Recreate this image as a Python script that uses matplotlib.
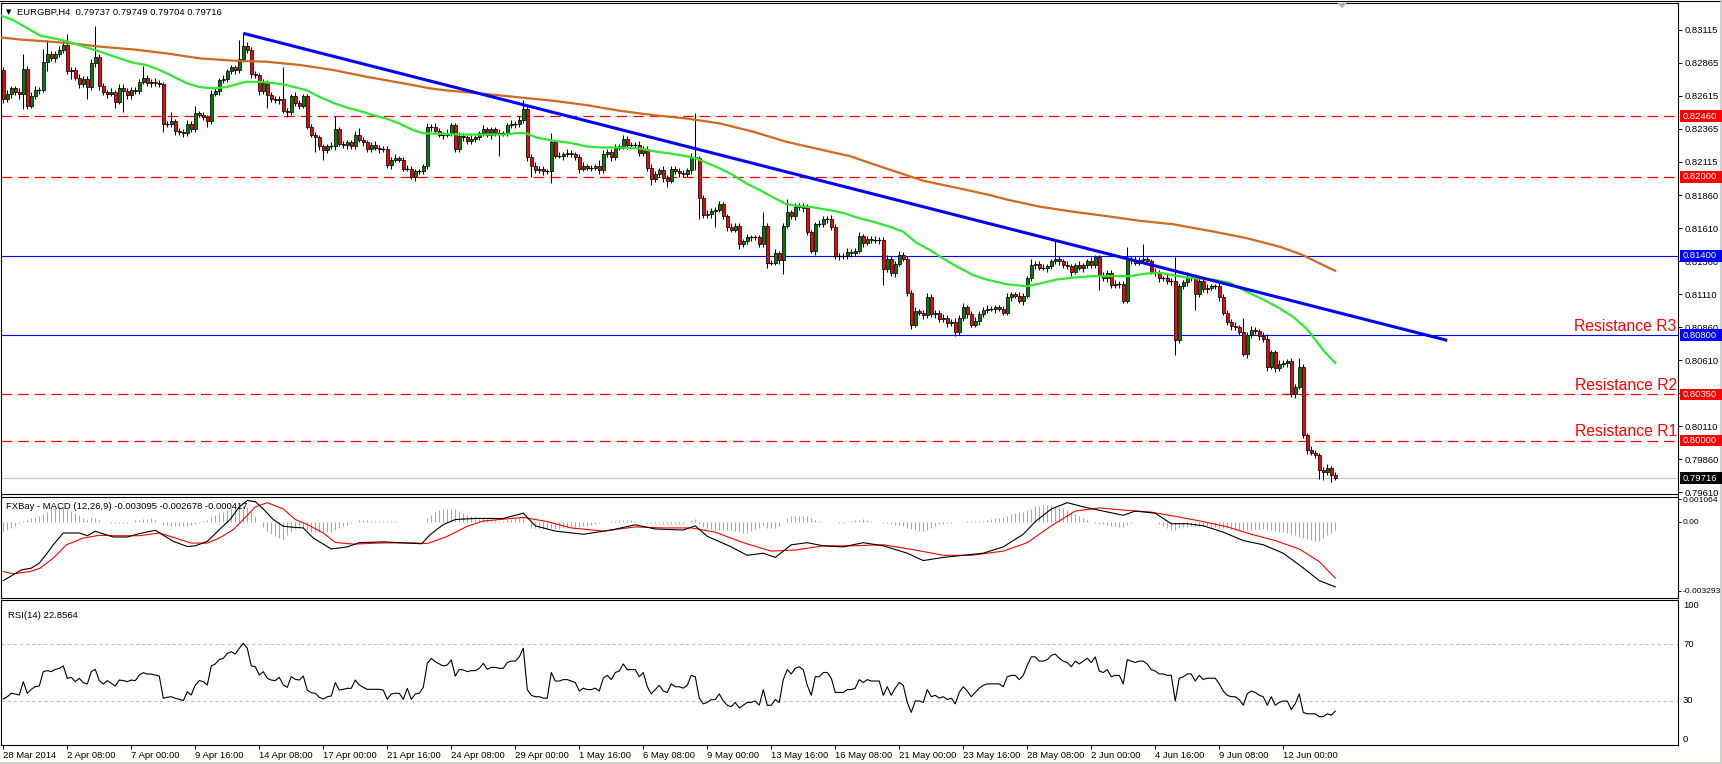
import numpy as np
import matplotlib
matplotlib.use('Agg')
import matplotlib.pyplot as plt
from matplotlib.patches import Rectangle, Polygon
from matplotlib.transforms import blended_transform_factory

plt.rcParams['font.family'] = ['Liberation Sans', 'DejaVu Sans']

# === EURGBP H4 candles (prices in pips, 1 pip = 0.0001) ===
first_open = 8281
closes = [
    8259, 8263, 8267, 8264, 8263, 8282, 8254, 8261, 8266, 8266,
    8287, 8293, 8290, 8293, 8296, 8300, 8280, 8281, 8275, 8270,
    8274, 8268, 8286, 8291, 8269, 8264, 8263, 8264, 8257, 8267,
    8265, 8262, 8266, 8265, 8272, 8275, 8271, 8272, 8271, 8270,
    8240, 8240, 8242, 8235, 8234, 8233, 8240, 8236, 8248, 8247,
    8245, 8242, 8263, 8265, 8273, 8274, 8280, 8283, 8281, 8289,
    8299, 8296, 8278, 8277, 8265, 8271, 8262, 8259, 8258, 8259,
    8250, 8249, 8261, 8256, 8254, 8261, 8238, 8232, 8230, 8223,
    8220, 8223, 8223, 8236, 8225, 8224, 8226, 8223, 8232, 8228,
    8226, 8221, 8224, 8222, 8221, 8221, 8209, 8213, 8214, 8213,
    8206, 8206, 8200, 8204, 8204, 8208, 8238, 8238, 8235, 8232,
    8232, 8233, 8239, 8221, 8231, 8230, 8227, 8229, 8230, 8233,
    8236, 8232, 8236, 8233, 8233, 8233, 8239, 8240, 8240, 8243,
    8251, 8215, 8208, 8205, 8206, 8204, 8204, 8226, 8216, 8216,
    8217, 8218, 8217, 8215, 8206, 8208, 8207, 8207, 8208, 8205,
    8217, 8219, 8215, 8222, 8223, 8229, 8224, 8224, 8224, 8218,
    8221, 8207, 8198, 8202, 8205, 8199, 8197, 8206, 8204, 8203,
    8202, 8205, 8215, 8214, 8184, 8171, 8172, 8174, 8175, 8179,
    8170, 8162, 8160, 8163, 8149, 8151, 8154, 8154, 8154, 8149,
    8163, 8135, 8135, 8142, 8137, 8163, 8173, 8170, 8177, 8178,
    8176, 8158, 8144, 8164, 8164, 8168, 8168, 8162, 8140, 8140,
    8140, 8143, 8142, 8144, 8155, 8150, 8153, 8152, 8152, 8152,
    8130, 8138, 8127, 8134, 8141, 8138, 8112, 8088, 8098, 8097,
    8095, 8109, 8096, 8097, 8092, 8093, 8089, 8090, 8082, 8093,
    8101, 8096, 8088, 8091, 8096, 8099, 8100, 8100, 8101, 8100,
    8097, 8109, 8111, 8110, 8106, 8110, 8123, 8133, 8134, 8131,
    8131, 8132, 8136, 8138, 8136, 8133, 8132, 8128, 8133, 8131,
    8133, 8136, 8133, 8139, 8125, 8123, 8127, 8118, 8119, 8119,
    8106, 8138, 8137, 8135, 8137, 8138, 8136, 8128, 8127, 8123,
    8123, 8121, 8121, 8076, 8117, 8120, 8123, 8123, 8111, 8121,
    8115, 8116, 8117, 8117, 8109, 8097, 8090, 8087, 8086, 8082,
    8066, 8080, 8084, 8083, 8079, 8077, 8056, 8067, 8055, 8058,
    8059, 8060, 8035, 8041, 8056, 8004, 7993, 7991, 7989, 7978,
    7976, 7979, 7974, 7972,
]
# wick length above / below the body, pips
wick_up = [
    2, 3, 2, 2, 3, 11, 2, 3, 3, 2, 10, 11, 2, 2, 3, 4, 8, 2, 2, 3,
    2, 2, 3, 23, 2, 2, 2, 3, 2, 3, 3, 2, 2, 2, 2, 9, 2, 2, 3, 2,
    2, 2, 7, 2, 2, 2, 3, 2, 6, 2, 2, 2, 3, 2, 2, 3, 2, 2, 2, 15,
    10, 3, 2, 2, 2, 3, 2, 2, 2, 2, 24, 2, 2, 3, 2, 2, 2, 2, 2, 2,
    2, 2, 3, 10, 2, 2, 2, 2, 3, 5, 2, 2, 2, 3, 2, 2, 2, 2, 3, 2,
    2, 3, 2, 2, 2, 2, 3, 2, 3, 2, 2, 3, 2, 2, 3, 2, 2, 3, 2, 2,
    3, 2, 2, 2, 3, 2, 2, 3, 2, 3, 7, 2, 2, 3, 2, 2, 2, 7, 2, 3,
    2, 3, 2, 2, 2, 3, 2, 2, 2, 5, 3, 2, 2, 3, 2, 3, 2, 2, 2, 3,
    2, 2, 3, 2, 2, 3, 2, 2, 2, 3, 2, 2, 3, 33, 2, 2, 3, 2, 2, 3,
    2, 2, 3, 2, 2, 2, 3, 2, 2, 2, 10, 2, 2, 3, 2, 2, 10, 2, 3, 2,
    2, 3, 2, 2, 3, 2, 2, 3, 2, 2, 2, 3, 2, 2, 3, 2, 2, 2, 3, 2,
    2, 3, 2, 2, 3, 2, 2, 2, 3, 2, 2, 3, 2, 2, 2, 3, 2, 2, 3, 2,
    3, 2, 2, 3, 2, 2, 3, 2, 2, 2, 2, 3, 2, 2, 3, 2, 2, 5, 2, 2,
    3, 2, 2, 13, 2, 2, 3, 2, 2, 3, 2, 2, 3, 2, 2, 3, 2, 2, 3, 2,
    2, 9, 2, 3, 2, 11, 2, 2, 3, 2, 2, 3, 2, 18, 2, 2, 5, 2, 3, 2,
    2, 3, 2, 2, 3, 2, 2, 2, 3, 2, 11, 2, 3, 2, 2, 3, 4, 2, 2, 3,
    2, 2, 3, 2, 7, 2, 2, 3, 2, 2, 2, 3, 2, 2,
]
wick_dn = [
    3, 2, 3, 2, 4, 12, 3, 2, 2, 3, 2, 7, 2, 3, 2, 2, 2, 6, 2, 3,
    2, 9, 2, 3, 3, 2, 3, 2, 5, 2, 16, 3, 3, 2, 2, 2, 2, 3, 2, 2,
    6, 2, 2, 3, 2, 3, 2, 2, 2, 2, 2, 4, 2, 2, 3, 2, 2, 2, 3, 2,
    2, 2, 3, 2, 3, 2, 10, 2, 2, 3, 2, 4, 2, 2, 3, 2, 2, 2, 11, 3,
    7, 2, 2, 3, 2, 2, 3, 2, 2, 2, 3, 2, 2, 2, 3, 2, 2, 3, 2, 2,
    2, 2, 2, 3, 2, 2, 2, 3, 2, 2, 3, 2, 2, 2, 2, 3, 2, 2, 3, 2,
    2, 2, 3, 2, 17, 2, 2, 2, 3, 2, 2, 3, 8, 2, 2, 3, 2, 9, 2, 2,
    3, 2, 2, 2, 3, 2, 2, 3, 2, 3, 2, 2, 3, 2, 2, 2, 3, 2, 2, 2,
    2, 3, 4, 2, 2, 3, 5, 2, 2, 3, 2, 2, 3, 9, 16, 2, 2, 3, 12, 2,
    2, 3, 2, 2, 4, 2, 2, 3, 2, 2, 2, 4, 2, 2, 3, 11, 2, 2, 3, 2,
    3, 2, 2, 3, 2, 2, 3, 2, 2, 3, 2, 2, 3, 2, 2, 3, 2, 2, 2, 3,
    12, 2, 2, 3, 2, 2, 2, 3, 2, 2, 3, 2, 2, 3, 2, 2, 3, 2, 3, 2,
    2, 3, 2, 2, 3, 2, 2, 2, 3, 2, 2, 2, 3, 2, 2, 3, 2, 2, 3, 2,
    2, 3, 2, 2, 3, 2, 2, 3, 2, 2, 3, 2, 2, 2, 11, 2, 3, 2, 2, 3,
    2, 2, 3, 2, 2, 2, 3, 2, 2, 3, 2, 2, 3, 11, 2, 2, 3, 2, 12, 2,
    2, 3, 2, 2, 3, 2, 2, 3, 2, 2, 2, 3, 2, 2, 3, 2, 3, 2, 3, 2,
    2, 3, 2, 3, 2, 2, 3, 2, 2, 7, 6, 2, 5, 2,
]

# moving averages read as (bar, pips) points
ma_fast_x = [-0.5, 2.3, 7.5, 9.2, 14, 16.7, 20.8, 24, 28.3, 32.5, 35.8, 39, 42.5, 45.8, 49, 52.5,
             55.8, 59, 60.8, 64, 67.5, 70.8, 74, 75.8, 79, 82.5, 85.8, 89, 92.5, 95.8, 99, 102.5,
             105, 110, 115, 125, 129.2, 130.8, 133.3, 137.5, 141.7, 145.8, 149.2, 154.2, 159.2,
             162.5, 166.7, 170.8, 173.3, 175.8, 179.2, 182.5, 185.8, 189.2, 192.5, 195.8, 199.2,
             201.7, 204.2, 207.5, 210, 214.2, 217.5, 221.7, 225, 228.3, 231.7, 235, 238.3, 242.5,
             245.8, 250.8, 255.8, 259.2, 263.3, 267.5, 272.5, 281.7, 285.8, 289.2, 292.5, 295.8,
             302.5, 306.7, 310.8, 315, 319.2, 322.5, 325.8, 327.5, 330, 333]
ma_fast_v = [8322, 8319, 8310, 8307, 8304, 8302, 8298, 8295, 8290.5, 8286.4, 8284.7, 8281, 8276, 8271,
             8268, 8267, 8268, 8270.7, 8272, 8272, 8271, 8269.5, 8267, 8265.7, 8260.6, 8256, 8252.5,
             8250, 8246.7, 8244, 8240.4, 8235.3, 8233, 8232.5, 8232, 8232, 8233.3, 8232.8, 8229.8,
             8227.3, 8225.7, 8223, 8222.2, 8222.2, 8221.4, 8219.4, 8217.6, 8215.6, 8213.9, 8210.6,
             8206.3, 8201.2, 8194.9, 8189.8, 8184.3, 8179.2, 8177.7, 8177.2, 8175.9, 8174.2, 8172.5,
             8168.4, 8165.9, 8162.1, 8158.3, 8149.9, 8144.4, 8138, 8132.2, 8125.4, 8122.1, 8118.6,
             8117, 8119.1, 8122.1, 8123.6, 8124.7, 8124.7, 8126.7, 8127.2, 8125.4, 8123.6, 8122.1,
             8119.5, 8113, 8107, 8100.1, 8093.8, 8084.9, 8078.6, 8068.5, 8058.9]
ma_slow_x = [-0.5, 4.2, 11.7, 17.5, 24.2, 32.5, 40.8, 49.2, 57.5, 65.8, 74.2, 82.5, 90.8, 100.2,
             106.7, 110, 120.8, 129.2, 137.5, 145.8, 154.2, 162.5, 170.8, 179.2, 187.5, 195.8,
             204.2, 211.7, 220, 230, 240.8, 246.7, 250.8, 259.2, 267.5, 275.8, 284.2, 292.5,
             302.5, 310.8, 319.2, 325, 329.2, 333]
ma_slow_v = [8305.6, 8304, 8302.4, 8301, 8298.6, 8296.5, 8293.5, 8289.7, 8288, 8287.2, 8284.7,
             8280.9, 8275.8, 8270.7, 8267, 8265.7, 8262.7, 8260.1, 8257.6, 8254.3, 8250, 8246.7,
             8244.2, 8240.4, 8234.1, 8226.5, 8220.7, 8215.6, 8207, 8197, 8190, 8186.1, 8182.8,
             8177.3, 8173.5, 8170.2, 8166.6, 8164, 8158.5, 8153.5, 8146.9, 8140.5, 8134.2, 8128.7]

trend_bars = [60, 361]
trend_prices = [0.83087, 0.80760]

red_levels = [0.82460, 0.82000, 0.80350, 0.80000]
blue_levels = [0.81400, 0.80800]
last_price = 0.79716
res_names = ['Resistance R3', 'Resistance R2', 'Resistance R1']
res_levels = [0.80800, 0.80350, 0.80000]

price_ticks = ['0.83115', '0.82865', '0.82615', '0.82365', '0.82115', '0.81860', '0.81610',
               '0.81360', '0.81110', '0.80860', '0.80610', '0.80360', '0.80110', '0.79860', '0.79610']

# MACD (12,26,9): main and signal lines as (bar, value*1e5) points, histogram per bar
macd_x = [0, 4.6, 7, 9, 11, 12.5, 15, 19, 21, 23, 27.5, 31, 34, 38, 42.5, 46, 48, 51, 54, 56.7,
          59, 61, 63, 65, 67.5, 70, 72.5, 75, 77.5, 82, 86, 89, 95, 101, 104.6, 106.7, 110, 113,
          118, 125, 130, 133, 138, 145, 152, 158, 163, 170, 173, 176, 182, 186, 190, 193, 197,
          201, 205, 210, 215, 220, 226, 230, 235, 240, 245, 250, 255, 258, 262, 266, 270, 275,
          280, 283, 288, 292, 296, 300, 305, 310, 315, 320, 325, 329, 333]
macd_v = [-280, -229, -221, -197, -149, -110, -54, -54, -67, -46, -73, -73, -57, -41, -94, -118,
          -115, -94, -38, 10, 70, 100, 95, 60, 10, -22, -27, -30, -78, -130, -120, -100, -96,
          -102, -105, -62, -14, 10, 15, 15, 40, -20, -45, -60, -40, -15, -35, -40, -20, -70,
          -120, -160, -150, -170, -110, -100, -115, -120, -100, -115, -150, -185, -170, -160,
          -150, -120, -60, 0, 60, 90, 70, 50, 30, 50, 40, -10, -10, -20, -50, -90, -110, -150,
          -220, -280, -310]
sig_x = [0, 2.5, 6.7, 9.2, 12.5, 15.8, 20, 24, 28, 34, 39, 43, 47, 51, 54, 57.5, 60, 63, 66,
         70, 73, 76, 80, 83, 87.5, 95, 102.5, 106, 111, 116, 120, 124, 130, 136, 142, 150, 158,
         165, 172, 178, 185, 192, 198, 205, 212, 220, 228, 235, 242, 250, 256, 262, 268, 274,
         280, 287, 293, 300, 306, 312, 318, 324, 329, 333]
sig_v = [-237, -248, -237, -221, -173, -110, -78, -65, -67, -67, -54, -78, -102, -102, -78, -38,
         10, 70, 90, 60, 10, -14, -54, -99, -107, -101, -101, -104, -70, -22, 3, 10, 20, 0, -30,
         -45, -25, -30, -30, -50, -100, -140, -135, -115, -115, -110, -135, -160, -160, -140,
         -100, -20, 50, 65, 55, 45, 25, 0, -25, -60, -90, -130, -190, -268]
macd_hist = [
    -43, -38, -30, -20, -8, 5, 10, 15, 20, 25, 35, 46, 60, 66, 70, 71, 62, 50, 40, 31,
    18, 9, 22, 15, 8, 0, -4, -6, -6, -6, -6, -6, 0, 6, 10, 12, 14, 16, 8, 0,
    -15, -18, -19, -20, -21, -22, -20, -17, -13, -5, 3, 8, 20, 30, 40, 48, 55, 65, 75, 80,
    75, 70, 45, 25, 0, -25, -45, -60, -70, -78, -82, -65, -47, -35, -23, -30, -40, -48, -50, -50,
    -50, -50, -50, -40, -30, -20, -15, -8, 0, 6, 6, 6, 5, 5, 5, 5, 3, 2, 1, 0,
    -1, -1, -1, -2, -2, -2, 15, 33, 45, 55, 61, 62, 62, 60, 50, 40, 32, 28, 25, 20,
    15, 12, 10, 8, 5, 3, 8, 12, 16, 18, 20, 0, -30, -32, -35, -35, -35, -30, -35, -33,
    -30, -28, -27, -26, -25, -23, -20, -15, -10, -5, -2, 0, 3, 5, 7, 9, 10, 10, 5, 0,
    -4, -7, -7, -8, -8, -9, -9, -10, -10, -10, -10, 0, 8, 11, -10, -27, -30, -35, -38, -40,
    -42, -42, -42, -45, -50, -54, -54, -45, -35, -28, -22, -28, -30, -30, -20, 0, 15, 26, 28, 28,
    27, 25, 15, 10, 5, 0, -2, -3, -4, -5, -5, 0, 5, 8, 10, 13, 10, 5, 0, -3,
    -5, -8, -12, -15, -18, -21, -28, -35, -40, -43, -43, -40, -30, -20, -12, -10, -8, -5, -3, -1,
    0, 1, 2, 3, 3, 5, 8, 12, 15, 18, 20, 28, 35, 40, 45, 47, 55, 62, 73, 76,
    78, 80, 80, 76, 70, 63, 55, 45, 35, 25, 15, 8, 0, -5, -10, -13, -17, -20, -22, -25,
    -25, -15, -8, -1, -1, -1, -2, -2, -2, -12, -22, -30, -38, -38, -30, -26, -24, -22, -21, -20,
    -20, -22, -24, -26, -28, -29, -32, -35, -38, -40, -42, -40, -38, -37, -36, -35, -38, -41, -44, -47,
    -47, -52, -58, -64, -72, -80, -84, -88, -90, -90, -80, -65, -52, -42,
]

# RSI(14) per bar
rsi = [
    31.4, 33, 35.4, 34.9, 34.2, 43.6, 35.4, 38.2, 40.1, 40.5,
    50.6, 51.3, 50.6, 52.2, 52.9, 54.6, 45.9, 46.6, 43.6, 45.9,
    42.9, 41.9, 50.6, 52.2, 44.3, 41.9, 44.3, 42.4, 40.5, 44.7,
    44.3, 43.6, 44.7, 44.3, 48.2, 49.9, 48.9, 48.9, 48.2, 47.5,
    31.9, 32.6, 33, 31.9, 31.2, 30.2, 36.5, 34.2, 41.2, 44.3,
    43.6, 41.2, 54.6, 56, 59.2, 59.9, 63.4, 64.6, 63, 67,
    70.5, 67, 54.6, 54.1, 48.2, 50.6, 45.9, 44.7, 44.3, 46.6,
    41.2, 39.6, 47.1, 45.2, 44.7, 47.5, 37.7, 35.8, 35.4, 32.6,
    31.4, 33, 33.5, 42.9, 37.7, 38.2, 38.9, 38.9, 44.7, 41.2,
    39.6, 38.2, 38.2, 38.2, 38.2, 37.7, 31.2, 34.9, 35.4, 35.4,
    31.2, 38.9, 31.2, 34.9, 35.4, 39.6, 56.4, 59.9, 57.6, 56,
    54.6, 55.3, 58.8, 47.5, 52.2, 51.8, 50.6, 51.3, 51.3, 52.9,
    56.4, 52.2, 53.6, 53.6, 52.9, 53, 57, 58, 58, 61,
    67, 38, 34, 33, 33, 32, 32, 50, 44, 44,
    45, 45, 44, 43, 37, 39, 38, 38, 39, 37,
    46, 48, 45, 50, 51, 56, 52, 52, 52, 47,
    50, 40, 35, 38, 41, 37, 36, 42, 40, 40,
    39, 41, 48, 47, 32, 28, 29, 31, 31, 35,
    30, 27, 26, 29, 25, 27, 29, 29, 30, 27,
    38, 27, 27, 31, 29, 45, 52, 49, 53, 54,
    52, 41, 34, 47, 47, 50, 50, 46, 36, 36,
    36, 38, 38, 39, 45, 43, 45, 44, 44, 44,
    34, 40, 34, 39, 43, 41, 29, 22, 30, 30,
    29, 38, 33, 34, 32, 33, 31, 32, 28, 36,
    40, 37, 33, 36, 39, 41, 42, 42, 42, 42,
    40, 47, 48, 48, 45, 48, 55, 61, 61, 58,
    58, 59, 62, 63, 60, 58, 57, 54, 58, 56,
    58, 60, 57, 61, 51, 50, 52, 47, 48, 48,
    42, 59, 58, 57, 58, 58, 56, 52, 51, 49,
    49, 48, 48, 30, 46, 47, 49, 49, 44, 48,
    45, 46, 46, 46, 42, 37, 34, 33, 33, 31,
    27, 35, 37, 36, 34, 33, 27, 33, 27, 29,
    30, 30, 24, 28, 35, 22, 21, 21, 21, 19,
    19, 21, 20, 22.9,
]

x_labels = ['28 Mar 2014', '2 Apr 08:00', '7 Apr 00:00', '9 Apr 16:00', '14 Apr 08:00',
            '17 Apr 00:00', '21 Apr 16:00', '24 Apr 08:00', '29 Apr 00:00', '1 May 16:00',
            '6 May 08:00', '9 May 00:00', '13 May 16:00', '16 May 08:00', '21 May 00:00',
            '23 May 16:00', '28 May 08:00', '2 Jun 00:00', '4 Jun 16:00', '9 Jun 08:00',
            '12 Jun 00:00']
bars_per_label = 16

# === build OHLC ===
c = np.array(closes) / 1e4
o = np.r_[first_open / 1e4, c[:-1]]
hi = np.maximum(o, c) + np.array(wick_up) / 1e4
lo = np.minimum(o, c) - np.array(wick_dn) / 1e4
x = np.arange(len(c))

# === figure in pixel layout ===
W, H = 1722, 764
fig = plt.figure(figsize=(W / 100, H / 100), dpi=100)
fig.patch.set_facecolor('white')


def px_axes(x0, y0, x1, y1):
    return fig.add_axes([x0 / W, 1 - y1 / H, (x1 - x0) / W, (y1 - y0) / H])


ax = px_axes(1, 3, 1678, 494.5)
ax2 = px_axes(1, 496.5, 1678, 598)
ax3 = px_axes(1, 600, 1678, 745)
XL = (-0.575, 418.69)
FS = 6.8

for a in (ax, ax2, ax3):
    a.set_xlim(*XL)
    a.set_facecolor('white')
    for s in a.spines.values():
        s.set_color('black')
        s.set_linewidth(0.8)
    a.yaxis.tick_right()
    a.tick_params(axis='y', length=3, width=0.7, pad=2, labelsize=FS, direction='out')
    a.tick_params(axis='x', bottom=False, labelbottom=False)

# --- main price panel ---
ax.set_ylim(0.79592, 0.83317)
ax.set_yticks([float(t) for t in price_ticks])
ax.set_yticklabels(price_ticks)

for lv in red_levels:
    ax.axhline(lv, color='#ff0000', lw=0.9, dashes=(8.5, 4.8), zorder=2)
for lv in blue_levels:
    ax.axhline(lv, color='#0000ff', lw=0.8, zorder=2)
ax.axhline(last_price, color='#c0c0c0', lw=0.8, zorder=2)

ax.vlines(x, lo, hi, color='black', lw=0.75, zorder=3)
up = c > o
dn = c < o
ax.bar(x[up], (c - o)[up], bottom=o[up], width=0.75, color='#008000',
       edgecolor='black', linewidth=0.55, zorder=4)
ax.bar(x[dn], (c - o)[dn], bottom=o[dn], width=0.75, color='#ff0000',
       edgecolor='black', linewidth=0.55, zorder=4)
flat = ~(up | dn)
ax.hlines(c[flat], x[flat] - 0.45, x[flat] + 0.45, color='black', lw=0.9, zorder=4)

ax.plot(ma_slow_x, np.array(ma_slow_v) / 1e4, color='#d2691e', lw=1.6, zorder=5)
ax.plot(ma_fast_x, np.array(ma_fast_v) / 1e4, color='#2fe82f', lw=1.6, zorder=5)
ax.plot(trend_bars, trend_prices, color='#0000ff', lw=2.2, zorder=6, solid_capstyle='butt')

for name, lv in zip(res_names, res_levels):
    ax.text(XL[1] - 0.3, lv + 0.00012, name, color='#ff0000', fontsize=11.3,
            ha='right', va='bottom', zorder=7)

# price tags on the right scale
tag_tr = blended_transform_factory(fig.transFigure, ax.transData)
tag_h = 0.00088
tags = [(lv, '#ff0000') for lv in red_levels] + [(lv, '#0000ff') for lv in blue_levels] + \
       [(last_price, '#000000')]
for lv, col in tags:
    fig.add_artist(Rectangle((1679.5 / W, lv - tag_h / 2), 42.5 / W, tag_h, transform=tag_tr,
                             facecolor=col, edgecolor='none', zorder=10))
    fig.text(1683 / W, lv, f'{lv:.5f}', transform=tag_tr, color='white', fontsize=FS,
             va='center', ha='left', zorder=11)

fig.text(6 / W, 1 - 12 / H, '\u25bc', fontsize=5, va='center', ha='left', family='DejaVu Sans')
fig.text(17 / W, 1 - 12 / H, 'EURGBP,H4  0.79737 0.79749 0.79704 0.79716', fontsize=FS,
         va='center', ha='left')
fig.add_artist(Polygon([(1337 / W, 1 - 3 / H), (1347 / W, 1 - 3 / H), (1342 / W, 1 - 8 / H)],
                       closed=True, facecolor='#b0b0b0', edgecolor='none'))

# --- MACD panel ---
ax2.set_ylim(-0.003628, 0.001193)
ax2.set_yticks([0.001064, 0.0, -0.003293])
ax2.set_yticklabels(['0.001064', '0.00', '-0.003293'])
ax2.tick_params(axis='y', length=2, pad=1, labelsize=6.1)
ax2.vlines(x, 0, np.array(macd_hist) / 1e5, color='#a8a8a8', lw=0.8, zorder=2)
ax2.plot(sig_x, np.array(sig_v) / 1e5, color='#ff0000', lw=0.8, zorder=3)
ax2.plot(macd_x, np.array(macd_v) / 1e5, color='black', lw=0.8, zorder=4)
ax2.text(0.003, 0.9, 'FXBay - MACD (12,26,9) -0.003095 -0.002678 -0.000417', transform=ax2.transAxes,
         fontsize=FS, va='center', ha='left')

# --- RSI panel ---
ax3.set_ylim(-0.9, 100.9)
ax3.set_yticks([])
for lv in (70, 30):
    ax3.axhline(lv, color='#c0c0c0', lw=0.8, dashes=(3, 2.5), zorder=1)
rsi_tr = blended_transform_factory(ax3.transAxes, ax3.transData)
for lv, va in ((100, 'top'), (70, 'center'), (30, 'center'), (0, 'bottom')):
    ax3.text(1.003, lv, str(lv), transform=rsi_tr, fontsize=FS, va=va, ha='left', clip_on=False)
ax3.plot(x, rsi, color='black', lw=0.8, zorder=3)
ax3.text(0.004, 0.89, 'RSI(14) 22.8564', transform=ax3.transAxes, fontsize=FS, va='center', ha='left')

# x axis labels under the RSI panel
ax3.set_xticks(np.arange(len(x_labels)) * bars_per_label)
ax3.set_xticklabels(x_labels)
ax3.tick_params(axis='x', bottom=True, labelbottom=True, length=3, width=0.7, pad=1.5,
                labelsize=FS, direction='out')
for lbl in ax3.get_xticklabels():
    lbl.set_ha('left')

# window edges
fig.add_artist(plt.Line2D([0, 1], [1 - 1 / H, 1 - 1 / H], color='black', lw=0.8))
fig.add_artist(plt.Line2D([1 - 1.5 / W, 1 - 1.5 / W], [0, 1], color='#c8c8c8', lw=1.2))
fig.add_artist(plt.Line2D([0, 1], [1.5 / H, 1.5 / H], color='#d4d0c8', lw=2))

fig.savefig('out.png', dpi=100, facecolor='white')
